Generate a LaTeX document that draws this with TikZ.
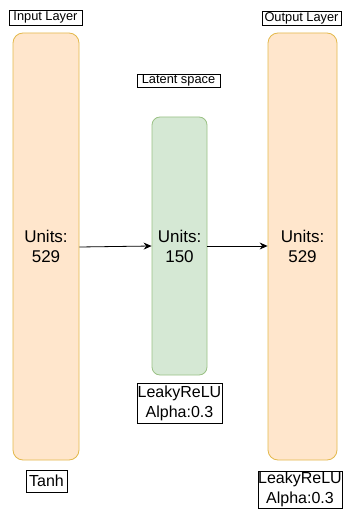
\documentclass[tikz,border=0pt]{standalone}
\usepackage{fontspec}
\setmainfont{Liberation Sans}
\usetikzlibrary{arrows.meta}
\definecolor{ofill}{HTML}{FFE6CC}
\definecolor{odraw}{HTML}{D79B00}
\definecolor{gfill}{HTML}{D5E8D4}
\definecolor{gdraw}{HTML}{82B366}
\tikzset{
  layer/.style={draw=odraw!70, fill=ofill, rounded corners=10pt, line width=0.8pt, inner sep=0pt, align=center, font=\fontsize{17}{20}\selectfont},
  latent/.style={draw=gdraw!80, fill=gfill, rounded corners=8pt, line width=0.8pt, inner sep=0pt, align=center, font=\fontsize{17}{20}\selectfont},
  tag/.style={draw=black, line width=0.8pt, inner sep=0pt, align=center, font=\fontsize{12.8}{15}\selectfont},
  act/.style={draw=black, line width=0.8pt, inner sep=0pt, align=center, font=\fontsize{16}{20}\selectfont},
  conn/.style={-{Stealth[length=8pt,width=7pt]}, line width=0.8pt, black}
}
\begin{document}
\begin{tikzpicture}[x=1pt,y=-1pt]
\useasboundingbox[fill=white] (0,0) rectangle (343,510);
\node[tag, minimum width=73pt, minimum height=15pt] (inlab) at (45.5,17.5) {Input Layer};
\node[tag, minimum width=79pt, minimum height=14pt] (outlab) at (301.5,18) {Output Layer};
\node[tag, minimum width=83pt, minimum height=13pt] (latlab) at (178.5,80.5) {Latent space};
\node[layer, minimum width=66pt, minimum height=427pt] (inl) at (46,246.5) {Units:\\529};
\node[layer, minimum width=69pt, minimum height=427pt] (outl) at (302.5,246.5) {Units:\\529};
\node[latent, minimum width=55pt, minimum height=258pt] (lat) at (179.5,246) {Units:\\150};
\node[act, minimum width=85pt, minimum height=40pt] (midact) at (179.5,403) {LeakyReLU\\Alpha:0.3};
\node[act, minimum width=41pt, minimum height=22pt] (tanh) at (46.5,481) {Tanh};
\node[act, minimum width=84pt, minimum height=37pt] (outact) at (300,489.5) {LeakyReLU\\Alpha:0.3};
\draw[conn] (inl.east |- 0,247) -- (lat.west |- 0,246);
\draw[conn] (lat.east |- 0,246) -- (outl.west |- 0,246);
\end{tikzpicture}
\end{document}
